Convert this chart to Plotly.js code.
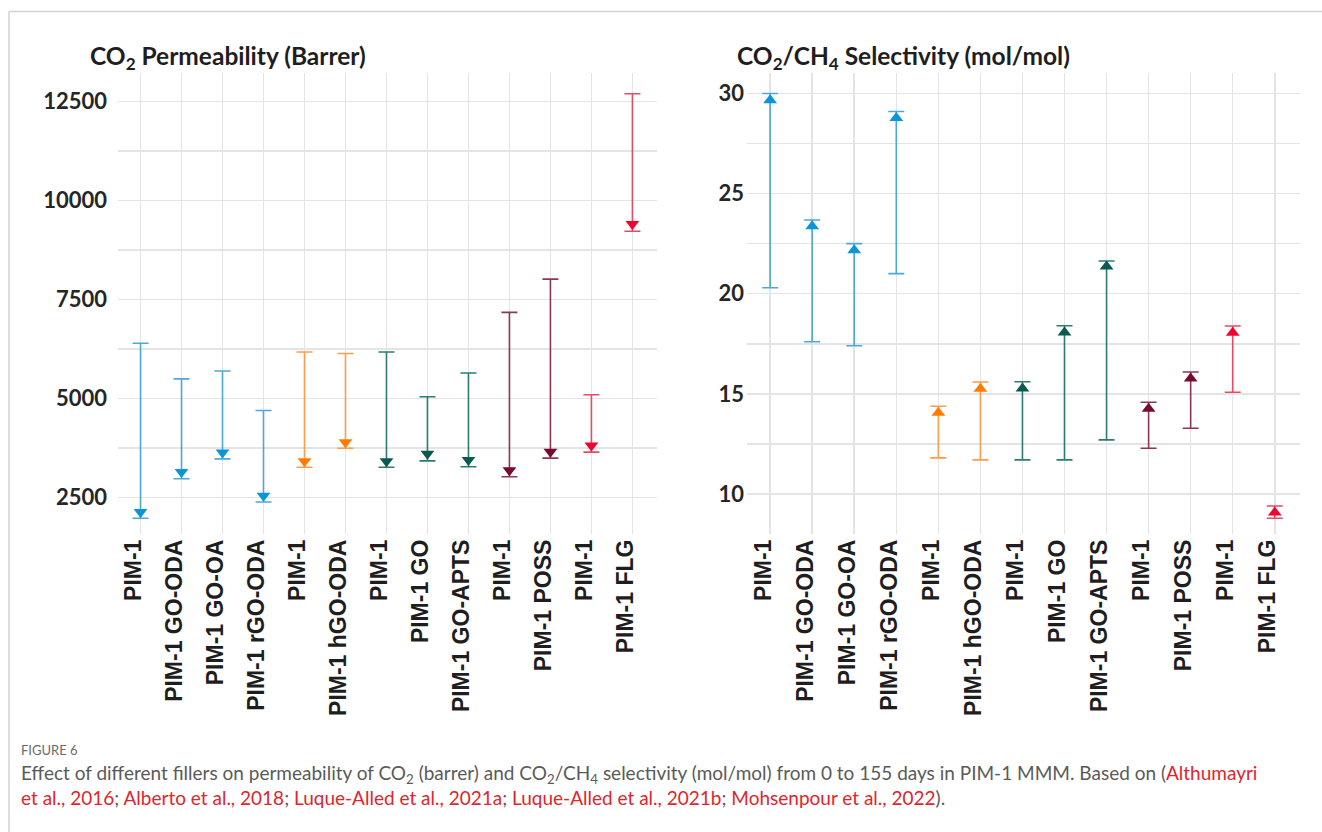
<!DOCTYPE html>
<html><head><meta charset="utf-8">
<script src="https://cdn.plot.ly/plotly-3.0.1.min.js"></script>
<style>html,body{margin:0;padding:0;background:#fff;overflow:hidden;} #chart{width:1322px;height:832px;}</style>
</head><body><div id="chart"></div>
<script>
// ---- data ----
const labels = ["PIM-1","PIM-1 GO-ODA","PIM-1 GO-OA","PIM-1 rGO-ODA","PIM-1","PIM-1 hGO-ODA","PIM-1","PIM-1 GO","PIM-1 GO-APTS","PIM-1","PIM-1 POSS","PIM-1","PIM-1 FLG"];
const groupOf = [0,0,0,0,1,1,2,2,2,3,3,4,4];

const permLow   = [1980, 2980, 3480, 2390, 3270, 3750, 3270, 3430, 3280, 3030, 3500, 3650, 9230];
const permPoint = [2140, 3150, 3640, 2550, 3420, 3900, 3420, 3610, 3450, 3190, 3660, 3820, 9410];
const permHigh  = [6400, 5500, 5700, 4700, 6180, 6140, 6180, 5050, 5650, 7180, 8020, 5100, 12700];

const selLow   = [20.3, 17.6, 17.4, 21.0, 11.8, 11.7, 11.7, 11.7, 12.7, 12.28, 13.28, 15.08, 8.79];
const selPoint = [29.66, 23.37, 22.17, 28.77, 14.06, 15.25, 15.26, 18.06, 21.36, 14.26, 15.76, 18.05, 9.07];
const selHigh  = [30.0, 23.68, 22.5, 29.1, 14.38, 15.59, 15.6, 18.4, 21.63, 14.58, 16.09, 18.39, 9.40];

const markerColors = ["#0a96d6","#ff7c00","#0b5a50","#780a2c","#f0042e"];
const barColors    = ["#4ea7da","#ff9b4a","#2a7c71","#8c3755","#e84a66"];

// ---- traces ----
const traces = [];
function addPanel(low, pt, high, xa, ya, symbol) {
  for (let g = 0; g < markerColors.length; g++) {
    const idx = [];
    for (let i = 0; i < labels.length; i++) if (groupOf[i] === g) idx.push(i);
    traces.push({
      type: 'scatter', mode: 'markers', xaxis: xa, yaxis: ya,
      x: idx, y: idx.map(i => pt[i]),
      marker: {symbol: symbol, size: 12, color: markerColors[g], line: {width: 0}},
      error_y: {type: 'data', symmetric: false,
        array: idx.map(i => high[i] - pt[i]),
        arrayminus: idx.map(i => pt[i] - low[i]),
        color: barColors[g], thickness: 1.6, width: 8},
      showlegend: false, hoverinfo: 'skip'
    });
  }
}
addPanel(permLow, permPoint, permHigh, 'x', 'y', 'triangle-down');
addPanel(selLow, selPoint, selHigh, 'x2', 'y2', 'triangle-up');

// ---- layout ----
const W = 1322, H = 832;
const gridC = '#e4e4e4';
const tickFontX = {family: 'Liberation Sans, Arial, sans-serif', size: 23, color: '#1e1e1e', weight: 'bold'};
const tickFontY = {family: 'Lato, sans-serif', size: 22, color: '#262626', weight: 'bold'};
const yDom = [(H - 534) / H, (H - 73) / H];
function xAxis(dom, anchor) {
  return {domain: dom, anchor: anchor, range: [-0.55, 12.6],
    tickmode: 'array', tickvals: labels.map((_, i) => i), ticktext: labels,
    tickangle: -90, tickfont: tickFontX, ticklabelshift: -7,
    showgrid: true, gridcolor: gridC, gridwidth: 1.5,
    zeroline: false, showline: false, ticks: '', fixedrange: true};
}
const red = '#e2242c';
const layout = {
  width: W, height: H, margin: {l: 0, r: 0, t: 0, b: 0},
  paper_bgcolor: '#fff', plot_bgcolor: '#fff', showlegend: false,
  xaxis: xAxis([118 / W, 657 / W], 'y'),
  xaxis2: xAxis([747 / W, 1300 / W], 'y2'),
  yaxis: {domain: yDom, anchor: 'x', range: [1583, 13225], tick0: 0, dtick: 2500, tickformat: 'd',
    tickfont: tickFontY, showgrid: true, gridcolor: gridC, gridwidth: 1.5, zeroline: false, ticks: '',
    ticklabelstandoff: 10,
    minor: {tick0: 0, dtick: 1250, showgrid: true, gridcolor: gridC, gridwidth: 1.5}},
  yaxis2: {domain: yDom, anchor: 'x2', range: [8.0, 31.02], tick0: 0, dtick: 5,
    tickfont: tickFontY, showgrid: true, gridcolor: gridC, gridwidth: 1.5, zeroline: false, ticks: '',
    ticklabelstandoff: 2,
    minor: {tick0: 0, dtick: 2.5, showgrid: true, gridcolor: gridC, gridwidth: 1.5}},
  shapes: [
    {type: 'line', xref: 'paper', yref: 'paper', x0: 9 / W, x1: 1, y0: (H - 11.5) / H, y1: (H - 11.5) / H,
      line: {color: '#d2d2d2', width: 1.5}},
    {type: 'line', xref: 'paper', yref: 'paper', x0: 9 / W, x1: 9 / W, y0: 0, y1: (H - 11.5) / H,
      line: {color: '#d2d2d2', width: 1.5}}
  ],
  annotations: [
    {xref: 'paper', yref: 'paper', x: 88 / W, y: (H - 39) / H, xanchor: 'left', yanchor: 'top', showarrow: false,
      text: 'CO<sub>2</sub> Permeability (Barrer)', font: {family: 'Lato, sans-serif', size: 24.5, color: '#1e1e1e', weight: 'bold'}},
    {xref: 'paper', yref: 'paper', x: 735 / W, y: (H - 39) / H, xanchor: 'left', yanchor: 'top', showarrow: false,
      text: 'CO<sub>2</sub>/CH<sub>4</sub> Selectivity (mol/mol)', font: {family: 'Lato, sans-serif', size: 24.5, color: '#1e1e1e', weight: 'bold'}},
    {xref: 'paper', yref: 'paper', x: 19 / W, y: (H - 740) / H, xanchor: 'left', yanchor: 'top', showarrow: false, align: 'left',
      text: 'FIGURE 6', font: {family: 'Lato, sans-serif', size: 13, color: '#6b6b6b'}},
    {xref: 'paper', yref: 'paper', x: 19 / W, y: (H - 759) / H, xanchor: 'left', yanchor: 'top', showarrow: false, align: 'left',
      text: 'Effect of different fillers on permeability of CO<sub>2</sub> (barrer) and CO<sub>2</sub>/CH<sub>4</sub> selectivity (mol/mol) from 0 to 155 days in PIM-1 MMM. Based on (<span style="color:' + red + '">Althumayri</span><br>' +
            '<span style="color:' + red + '">et al., 2016</span>; <span style="color:' + red + '">Alberto et al., 2018</span>; <span style="color:' + red + '">Luque-Alled et al., 2021a</span>; <span style="color:' + red + '">Luque-Alled et al., 2021b</span>; <span style="color:' + red + '">Mohsenpour et al., 2022</span>).',
      font: {family: 'Lato, sans-serif', size: 19, color: '#5a5a5a'}}
  ]
};
Plotly.newPlot('chart', traces, layout, {staticPlot: true, displayModeBar: false});
</script>
</body></html>
